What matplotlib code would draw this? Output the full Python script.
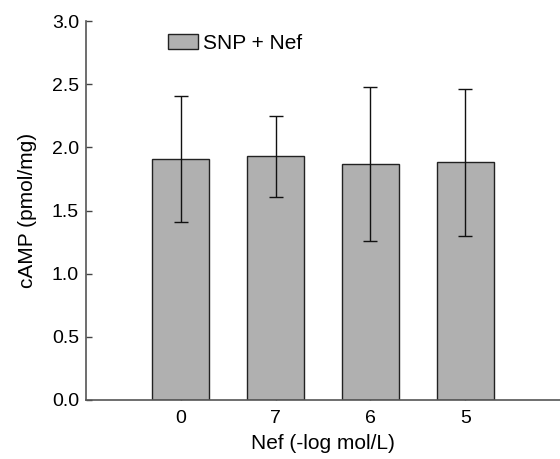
import matplotlib
matplotlib.use("Agg")
import matplotlib.pyplot as plt

plt.rcParams['font.family'] = ['Liberation Sans', 'DejaVu Sans']

categories = ["0", "7", "6", "5"]
means = [1.91, 1.93, 1.87, 1.88]
errors = [0.50, 0.32, 0.61, 0.58]
yticks = [0.0, 0.5, 1.0, 1.5, 2.0, 2.5, 3.0]

fig = plt.figure(figsize=(5.6, 4.59), dpi=100)
ax = fig.add_axes([86/560, 1-400/459, 1-86/560, (400-21)/459])

x = list(range(1, len(categories) + 1))
ax.bar(x, means, width=0.6, color='#b0b0b0', edgecolor='#222222', linewidth=1.0,
       yerr=errors, error_kw=dict(ecolor='#111111', elinewidth=1.0, capsize=5, capthick=1.0),
       label='SNP + Nef', zorder=2)

ax.set_xlim(0, 5)
ax.set_ylim(0, 3.0)
ax.set_xticks(x)
ax.set_xticklabels(categories)
ax.set_yticks(yticks)
ax.set_yticklabels([f"{v:.1f}" for v in yticks])
ax.tick_params(direction='in', length=4, width=1, labelsize=14, color='#444444', pad=5)
ax.tick_params(axis='x', pad=7)
for s in ['top', 'right']:
    ax.spines[s].set_visible(False)
for s in ['left', 'bottom']:
    ax.spines[s].set_color('#555555')
    ax.spines[s].set_linewidth(1.2)

ax.set_ylabel('cAMP (pmol/mg)', fontsize=15, labelpad=11)
ax.set_xlabel('Nef (-log mol/L)', fontsize=15, labelpad=5)

leg = ax.legend(loc='upper left', bbox_to_anchor=(0.173, 0.967), frameon=False, fontsize=15,
                handlelength=1.45, handleheight=0.75, handletextpad=0.25, borderaxespad=0,
                borderpad=0)

fig.savefig('out.png', dpi=100)
